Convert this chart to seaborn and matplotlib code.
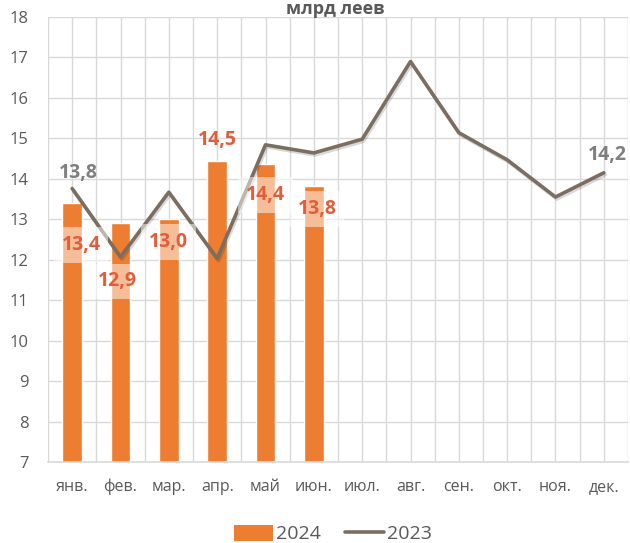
import matplotlib
matplotlib.use("Agg")
import matplotlib.pyplot as plt
import matplotlib.patheffects as pe
from matplotlib.patches import Patch
from matplotlib.lines import Line2D
import numpy as np
import pandas as pd
import seaborn as sns

months = ["янв.", "фев.", "мар.", "апр.", "май", "июн.", "июл.", "авг.", "сен.", "окт.", "ноя.", "дек."]
values_2024 = [13.4, 12.9, 13.0, 14.45, 14.37, 13.82]
labels_2024 = ["13,4", "12,9", "13,0", "14,5", "14,4", "13,8"]
values_2023 = [13.76, 12.07, 13.67, 12.03, 14.84, 14.64, 14.98, 16.9, 15.14, 14.47, 13.55, 14.15]
yticks = [7, 8, 9, 10, 11, 12, 13, 14, 15, 16, 17, 18]
title = "млрд леев"

BAR = "#ED7D31"
LINE = "#7B6E60"
GRID = "#D9D9D9"
TXT = "#595959"
LAB = "#E35D3B"

sns.set_style("white")
plt.rcParams["font.family"] = ["Open Sans", "DejaVu Sans"]

fig = plt.figure(figsize=(6.3, 5.43), dpi=100)
ax = fig.add_axes([48 / 630, 1 - 462 / 543, 580 / 630, 445 / 543])

df24 = pd.DataFrame({"month": months[:len(values_2024)], "value": values_2024})
sns.barplot(data=df24, x="month", y="value", order=months, color=BAR,
            saturation=1, width=0.41, ax=ax, zorder=2)

xpos = np.arange(len(months))
sns.lineplot(x=xpos, y=values_2023, color=LINE, linewidth=2.6, ax=ax, zorder=3,
             path_effects=[pe.SimpleLineShadow(offset=(1, -1.5), alpha=0.15), pe.Normal()])

ax.set_ylim(7, 18)
ax.set_xlim(-0.5, len(months) - 0.5)
ax.set_yticks(yticks)
ax.set_xticks(xpos)
ax.set_xticklabels(months)
ax.set_xticks(np.arange(-0.5, len(months), 1.0), minor=True)
ax.grid(True, which="both", color=GRID, linewidth=1, zorder=0)
ax.set_axisbelow(True)
for s in ["top", "right", "left"]:
    ax.spines[s].set_visible(False)
ax.spines["bottom"].set_color(GRID)
ax.spines["bottom"].set_linewidth(1.2)
ax.tick_params(axis="x", which="major", length=0, pad=12, labelsize=11.5, labelcolor=TXT)
ax.tick_params(axis="x", which="minor", length=5, width=1.2, color=GRID, direction="out")
ax.tick_params(axis="y", length=0, pad=14, labelsize=12, labelcolor=TXT)
ax.set_xlabel("")
ax.set_ylabel("")

# bar data labels (offsets in pixels)
offsets = [(9, -42), (-3, -58), (0, -23), (0, 21), (0, -31), (3, -23)]
for i, (v, lab) in enumerate(zip(values_2024, labels_2024)):
    dx, dy = offsets[i]
    box = None if dy > 0 else dict(boxstyle="square,pad=0.4", fc="white", ec="none", alpha=0.5)
    ax.annotate(lab, (i, v), xytext=(dx, dy), textcoords="offset pixels",
                ha="center", va="center", fontsize=14, fontweight="bold",
                color=LAB, bbox=box, zorder=4)

# line data labels
ax.annotate("13,8", (0, values_2023[0]), xytext=(6, 16), textcoords="offset pixels",
            ha="center", va="center", fontsize=14, fontweight="bold", color="#7F7F7F", zorder=4)
ax.annotate("14,2", (11, values_2023[11]), xytext=(4, 18), textcoords="offset pixels",
            ha="center", va="center", fontsize=14, fontweight="bold", color="#7F7F7F", zorder=4,
            annotation_clip=False)

fig.text(335 / 630, 1.0, title, ha="center", va="top",
         fontsize=13, fontweight="bold", color=TXT)

handles = [Patch(facecolor=BAR, edgecolor="none"),
           Line2D([0], [0], color=LINE, linewidth=2.6)]
fig.legend(handles, ["2024", "2023"], loc="center", bbox_to_anchor=(333 / 630, 1 - 534 / 543),
           ncol=2, frameon=False, fontsize=14, labelcolor=TXT, handlelength=2.0,
           handleheight=0.9, handletextpad=0.2, columnspacing=1.2)

fig.savefig("out.png", dpi=100)
